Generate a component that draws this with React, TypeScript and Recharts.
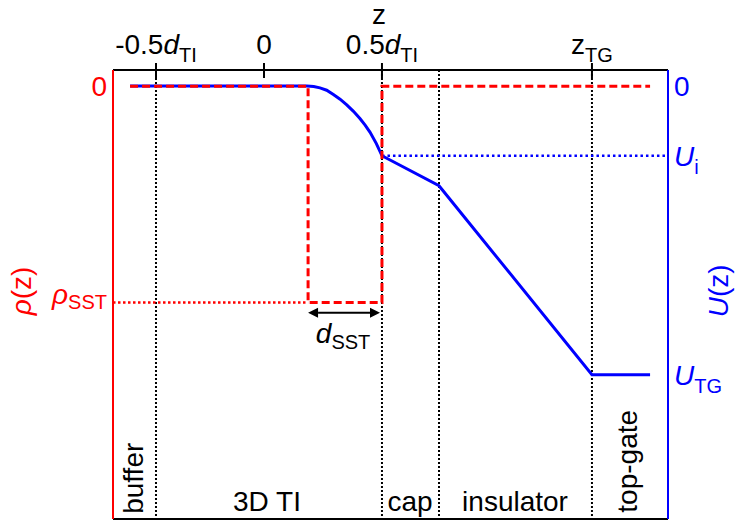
import React from "react";
import {
  ComposedChart,
  Line,
  XAxis,
  YAxis,
  ReferenceLine,
  ReferenceDot,
} from "recharts";

const FONT = '"Liberation Sans", Arial, Helvetica, sans-serif';
const RED = "#ff0000";
const BLUE = "#0000ff";
const FS = 28;
const SUB = 20;

type Part = [string, "n" | "i" | "s"];

// z axis (schematic units, d_TI = 1, 0 at the TI centre)
const zDomain = [-0.699, 1.87];
const zTicks = [-0.5, 0, 0.546, 1.518];
const zTickParts: Part[][] = [
  [["-0.5", "n"], ["d", "i"], ["TI", "s"]],
  [["0", "n"]],
  [["0.5", "n"], ["d", "i"], ["TI", "s"]],
  [["z", "n"], ["TG", "s"]],
];
// layer boundaries: buffer | 3D TI | cap | insulator | top-gate
const boundaries = [-0.5, 0.546, 0.81, 1.518];

// charge density rho(z), in units of rho_SST
const rhoDomain = [-2.0, 0.075];
const rhoZ = [-0.62, 0.204, 0.204, 0.546, 0.546, 1.787];
const rhoV = [0, 0, -1, -1, 0, 0];
const rhoTicks = [0, -1];
const rhoTickParts: Part[][] = [
  [["0", "n"]],
  [["ρ", "i"], ["SST", "s"]],
];

// potential U(z), in units of U_TG
const uDomain = [-1.5, 0.055];
const uZ = [
  -0.62, 0.198, 0.23, 0.259, 0.29, 0.321, 0.352, 0.383, 0.414, 0.444, 0.468,
  0.491, 0.52, 0.546, 0.81, 1.518, 1.787,
];
const uV = [
  0, 0, -0.002, -0.007, -0.015, -0.03, -0.046, -0.066, -0.088, -0.113, -0.136,
  -0.161, -0.2, -0.242, -0.346, -1, -1,
];
const uInterface = -0.242;
const uTicks = [0, uInterface, -1];
const uTickParts: Part[][] = [
  [["0", "n"]],
  [["U", "i"], ["i", "s"]],
  [["U", "i"], ["TG", "s"]],
];

const rhoData = rhoZ.map((z, i) => ({ z, rho: rhoV[i] }));
const uData = uZ.map((z, i) => ({ z, u: uV[i] }));

function renderParts(parts: Part[], subDy: number) {
  return parts.map(([t, k], i) => {
    if (k === "s")
      return (
        <tspan key={i} fontSize={SUB} dy={subDy}>
          {t}
        </tspan>
      );
    if (k === "i")
      return (
        <tspan key={i} fontStyle="italic">
          {t}
        </tspan>
      );
    return <tspan key={i}>{t}</tspan>;
  });
}

function TopTick(props: any) {
  const { x, y, index } = props;
  return (
    <g>
      <line x1={x} x2={x} y1={y - 7} y2={y + 8} stroke="#000" strokeWidth={2} />
      <text
        x={x}
        y={y - 16}
        textAnchor="middle"
        fontFamily={FONT}
        fontSize={FS}
        fill="#000"
      >
        {renderParts(zTickParts[index], 8)}
      </text>
    </g>
  );
}

function RhoTick(props: any) {
  const { x, y, index } = props;
  const isZero = index === 0;
  return (
    <text
      x={x - 6}
      y={isZero ? y + 10 : y + 1}
      textAnchor="end"
      fontFamily={FONT}
      fontSize={FS}
      fill={RED}
    >
      {renderParts(rhoTickParts[index], 5)}
    </text>
  );
}

function UTick(props: any) {
  const { x, y, index } = props;
  return (
    <text
      x={x + 6}
      y={y + 10}
      textAnchor="start"
      fontFamily={FONT}
      fontSize={FS}
      fill={BLUE}
    >
      {renderParts(uTickParts[index], 8)}
    </text>
  );
}

function noteShape(
  parts: Part[],
  opts: { anchor?: string; rotate?: boolean; fill?: string; subDy?: number } = {}
) {
  const { anchor = "middle", rotate = false, fill = "#000", subDy = 7 } = opts;
  return (p: any) => (
    <text
      x={p.cx}
      y={p.cy}
      textAnchor={anchor}
      fontFamily={FONT}
      fontSize={FS}
      fill={fill}
      transform={rotate ? `rotate(-90 ${p.cx} ${p.cy})` : undefined}
    >
      {renderParts(parts, subDy)}
    </text>
  );
}

function Arrow(p: any) {
  const { x1, y1, x2, y2 } = p;
  const h = 10;
  const w = 5;
  return (
    <g>
      <line x1={x1 + h} y1={y1} x2={x2 - h} y2={y2} stroke="#000" strokeWidth={2} />
      <polygon points={`${x1},${y1} ${x1 + h},${y1 - w} ${x1 + h},${y1 + w}`} fill="#000" />
      <polygon points={`${x2},${y2} ${x2 - h},${y2 - w} ${x2 - h},${y2 + w}`} fill="#000" />
    </g>
  );
}

export default function App() {
  return (
    <div style={{ position: "absolute", left: 0, top: 0 }}>
      <ComposedChart
        width={735}
        height={525}
        margin={{ top: 0, right: 0, bottom: 0, left: 0 }}
      >
        <XAxis
          dataKey="z"
          type="number"
          orientation="top"
          domain={zDomain}
          allowDataOverflow
          ticks={zTicks}
          interval={0}
          height={70}
          tickSize={0}
          tickMargin={0}
          tickLine={false}
          axisLine={{ stroke: "#000", strokeWidth: 2 }}
          tick={<TopTick />}
        />
        <XAxis
          xAxisId="bottom"
          dataKey="z"
          type="number"
          orientation="bottom"
          domain={zDomain}
          allowDataOverflow
          height={6}
          tick={false}
          tickLine={false}
          axisLine={{ stroke: "#000", strokeWidth: 2 }}
        />
        <YAxis
          yAxisId="rho"
          type="number"
          orientation="left"
          domain={rhoDomain}
          allowDataOverflow
          ticks={rhoTicks}
          interval={0}
          width={113}
          tickSize={0}
          tickMargin={0}
          tickLine={false}
          axisLine={{ stroke: RED, strokeWidth: 2 }}
          tick={<RhoTick />}
        />
        <YAxis
          yAxisId="U"
          type="number"
          orientation="right"
          domain={uDomain}
          allowDataOverflow
          ticks={uTicks}
          interval={0}
          width={67}
          tickSize={0}
          tickMargin={0}
          tickLine={false}
          axisLine={{ stroke: BLUE, strokeWidth: 2 }}
          tick={<UTick />}
        />

        {boundaries.map((b) => (
          <ReferenceLine
            key={b}
            x={b}
            yAxisId="U"
            stroke="#000"
            strokeWidth={2}
            strokeDasharray="2 2"
          />
        ))}
        <ReferenceLine
          yAxisId="rho"
          segment={[
            { x: zDomain[0], y: -1 },
            { x: rhoZ[1], y: -1 },
          ]}
          stroke={RED}
          strokeWidth={2.5}
          strokeDasharray="2.5 2.5"
        />
        <ReferenceLine
          yAxisId="U"
          segment={[
            { x: 0.546, y: uInterface },
            { x: zDomain[1], y: uInterface },
          ]}
          stroke={BLUE}
          strokeWidth={2.5}
          strokeDasharray="2.5 3"
        />

        <Line
          yAxisId="U"
          data={uData}
          dataKey="u"
          type="linear"
          stroke={BLUE}
          strokeWidth={3}
          dot={false}
          isAnimationActive={false}
        />
        <Line
          yAxisId="rho"
          data={rhoData}
          dataKey="rho"
          type="linear"
          stroke={RED}
          strokeWidth={3}
          strokeDasharray="8 4"
          dot={false}
          isAnimationActive={false}
        />

        <ReferenceLine
          yAxisId="U"
          segment={[
            { x: 0.204, y: -0.786 },
            { x: 0.537, y: -0.786 },
          ]}
          shape={Arrow}
        />

        <ReferenceDot yAxisId="U" x={0.532} y={0.215} r={0} ifOverflow="visible" shape={noteShape([["z", "n"]])} />
        <ReferenceDot yAxisId="U" x={0.24} y={-0.89} r={0} ifOverflow="visible" shape={noteShape([["d", "i"], ["SST", "s"]], { anchor: "start", subDy: 6 })} />
        <ReferenceDot yAxisId="U" x={0.014} y={-1.472} r={0} ifOverflow="visible" shape={noteShape([["3D TI", "n"]])} />
        <ReferenceDot yAxisId="U" x={0.676} y={-1.472} r={0} ifOverflow="visible" shape={noteShape([["cap", "n"]])} />
        <ReferenceDot yAxisId="U" x={1.162} y={-1.472} r={0} ifOverflow="visible" shape={noteShape([["insulator", "n"]])} />
        <ReferenceDot yAxisId="U" x={-0.56} y={-1.482} r={0} ifOverflow="visible" shape={noteShape([["buffer", "n"]], { anchor: "start", rotate: true })} />
        <ReferenceDot yAxisId="U" x={1.727} y={-1.478} r={0} ifOverflow="visible" shape={noteShape([["top-gate", "n"]], { anchor: "start", rotate: true })} />
        <ReferenceDot yAxisId="U" x={-1.08} y={-0.71} r={0} ifOverflow="visible" shape={noteShape([["ρ", "i"], ["(z)", "n"]], { rotate: true, fill: RED })} />
        <ReferenceDot yAxisId="U" x={2.148} y={-0.71} r={0} ifOverflow="visible" shape={noteShape([["U", "i"], ["(z)", "n"]], { rotate: true, fill: BLUE })} />
      </ComposedChart>
    </div>
  );
}
